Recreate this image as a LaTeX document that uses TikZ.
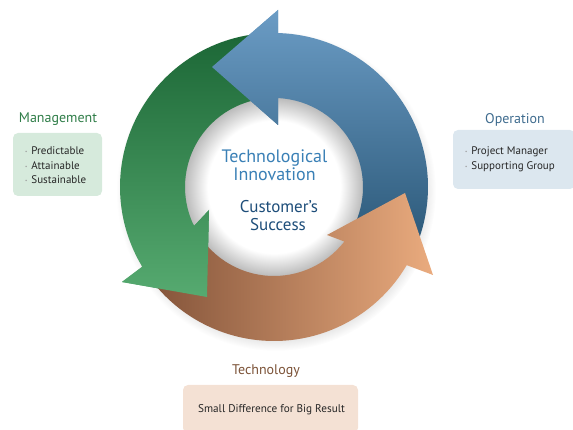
\documentclass[tikz,border=0pt]{standalone}
\usepackage{fontspec}
\setmainfont{PT Sans}
\usepackage{xcolor}
\usetikzlibrary{positioning}

\definecolor{blueL}{HTML}{6B9CC5}
\definecolor{blueM}{HTML}{5A8AB3}
\definecolor{blueD}{HTML}{2B5878}
\definecolor{greenD}{HTML}{1C6736}
\definecolor{greenL}{HTML}{56AA70}
\definecolor{orangeD}{HTML}{84543A}
\definecolor{orangeL}{HTML}{EAAB7E}
\definecolor{innovblue}{HTML}{3A80B6}
\definecolor{successblue}{HTML}{1E4E7A}
\definecolor{mgmtgreen}{HTML}{2F7D48}
\definecolor{mgmtfill}{HTML}{D6EADC}
\definecolor{operblue}{HTML}{3E6B8E}
\definecolor{operfill}{HTML}{DCE7EF}
\definecolor{techbrown}{HTML}{7B5237}
\definecolor{techfill}{HTML}{F4E1D4}
\definecolor{dotgray}{HTML}{9A9A9A}

\pgfdeclareradialshading{hubshadow}{\pgfpoint{0bp}{0bp}}{color(0bp)=(white); color(18bp)=(white); color(25bp)=(black!30); color(50bp)=(black!30)}
\pgfdeclareradialshading{ringshadow}{\pgfpoint{0bp}{0bp}}{color(0bp)=(black!16); color(22bp)=(black!16); color(25bp)=(white); color(50bp)=(white)}

\newcommand\dotmark{\textcolor{dotgray}{\raisebox{1pt}{\tiny\textbullet}}\hspace{4pt}}
% arrow outlines, centred on the hub
\newcommand\bluehead{(4,177) -- (-62,120) -- (4,62)}
\newcommand\greenhead{(-152,-95) -- (-67,-110) -- (-65,-23)}
\newcommand\orangehead{(159,-88) -- (131,-6) -- (53,-48)}
\newcommand\bluearrow{(-23:154) arc[start angle=-23,end angle=88.5,radius=154] -- \bluehead -- (87.4:89) arc[start angle=87.4,end angle=-23,radius=89] -- cycle}
\newcommand\greenarrow{(97:154) arc[start angle=97,end angle=211.2,radius=154] -- \greenhead -- (206:89) arc[start angle=206,end angle=97,radius=89] -- cycle}
\newcommand\orangearrow{(217:154) arc[start angle=217,end angle=329.5,radius=154] -- \orangehead -- (322.2:89) arc[start angle=322.2,end angle=217,radius=89] -- cycle}

\begin{document}
\begin{tikzpicture}[x=1pt,y=1pt,
  headline/.style={anchor=base,font=\fontsize{14}{16}\selectfont},
  panel/.style={rectangle,rounded corners=5pt,inner sep=0pt},
  entry/.style={anchor=base west,inner sep=0pt,font=\fontsize{11}{13}\selectfont,text=black!85},
  hubtext/.style={anchor=base,inner sep=0pt}]
  \useasboundingbox (0,0) rectangle (573,430);

  % the cycle
  \begin{scope}[shift={(274,243)}]
    \shade[shading=ringshadow] (2,-4) circle[radius=160];
    \shade[shading=hubshadow] (0,0) circle[radius=92];
    \shade[top color=blueL,middle color=blueM,bottom color=blueD] \bluearrow;
    \shade[top color=greenD,bottom color=greenL] \greenarrow;
    \shade[left color=orangeD,right color=orangeL] \orangearrow;
    % heads lie over the next tail
    \begin{scope}
      \clip \greenhead -- cycle;
      \shade[top color=greenD,bottom color=greenL] \greenarrow;
    \end{scope}
    \begin{scope}
      \clip \bluehead -- cycle;
      \shade[top color=blueL,middle color=blueM,bottom color=blueD] \bluearrow;
    \end{scope}
  \end{scope}

  \node[hubtext,font=\fontsize{18}{20}\selectfont,text=innovblue] (techl) at (274.5,267) {Technological};
  \node[hubtext,font=\fontsize{18}{20}\selectfont,text=innovblue] (innov) at (274.5,249) {Innovation};
  \node[hubtext,font=\fontsize{17}{19}\selectfont,text=successblue] (custom) at (279,217) {Customer’s};
  \node[hubtext,font=\fontsize{17}{19}\selectfont,text=successblue] (success) at (278,199) {Success};

  % Management
  \node[panel,fill=mgmtfill,minimum width=89,minimum height=63] (mgmt) at (57.5,265.5) {};
  \node[headline,text=mgmtgreen] (mgmttitle) at (58,307) {Management};
  \node[entry] (pred) at (25,275) {\dotmark Predictable};
  \node[entry] (attain) at (25,260.5) {\dotmark Attainable};
  \node[entry] (sustain) at (25,246) {\dotmark Sustainable};

  % Operation
  \node[panel,fill=operfill,minimum width=122,minimum height=59] (oper) at (514,270.5) {};
  \node[headline,text=operblue] (opertitle) at (515,306) {Operation};
  \node[entry] (pm) at (465,275) {\dotmark Project Manager};
  \node[entry] (sg) at (465,260) {\dotmark Supporting Group};

  % Technology
  \node[panel,fill=techfill,minimum width=175,minimum height=48] (tech) at (270.5,21) {};
  \node[headline,text=techbrown] (techtitle) at (266,55) {Technology};
  \node[anchor=base,inner sep=0pt,font=\fontsize{11.2}{13}\selectfont,text=black!85] (diff) at (271.5,17) {Small Difference for Big Result};
\end{tikzpicture}
\end{document}
